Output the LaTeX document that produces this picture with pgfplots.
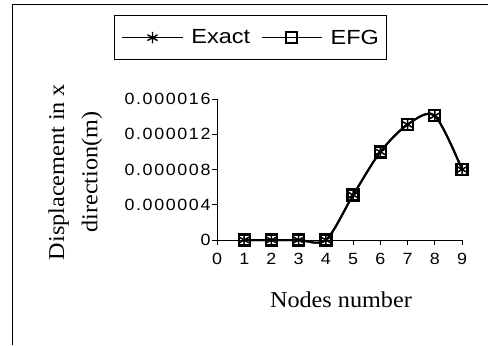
\documentclass[border=0pt]{standalone}
\usepackage{fontspec}
\usepackage{pgfplots}
\pgfplotsset{compat=1.18}
\newfontfamily\tickf[FakeStretch=1.1, LetterSpace=10]{Liberation Sans}
\newfontfamily\legf[FakeStretch=1.15]{Liberation Sans}
\newfontfamily\labf[FakeStretch=1.07]{Liberation Serif}
\begin{document}
\begin{tikzpicture}[x=1bp,y=1bp]
\useasboundingbox (0,0) rectangle (488,345);
\draw[line width=1bp] (12,0) -- (12,340) -- (488,340);
\begin{axis}[
  at={(217bp,105bp)}, anchor=south west,
  scale only axis, width=245bp, height=141bp,
  xmin=0, xmax=9, ymin=0, ymax=16e-6,
  axis lines*=left,
  axis line style={line width=0.8bp, black},
  tick align=outside, major tick length=5bp,
  tick style={line width=0.8bp, black},
  xtick={0,1,2,3,4,5,6,7,8,9},
  xticklabels={0,1,2,3,4,5,6,7,8,9},
  ytick={0,4e-6,8e-6,12e-6,16e-6},
  yticklabels={0,0.000004,0.000008,0.000012,0.000016},
  scaled y ticks=false,
  tick label style={font=\tickf\fontsize{16.3}{19}\selectfont},
  xticklabel style={yshift=-5bp},
  yticklabel style={xshift=2bp},
  clip=false,
  legend columns=2,
  legend style={at={(0.1367,1.435)}, anchor=center, draw=black, line width=1bp,
    font=\legf\fontsize{20.5}{24}\selectfont, inner xsep=8bp, inner ysep=14bp,
    nodes={inner sep=0pt},
    /tikz/every even column/.append style={column sep=11bp}},
  legend image code/.code={%
    \draw[mark repeat=2, mark phase=2, #1, line width=0.9bp, every mark/.append style={line width=1.4bp}]
      plot coordinates {(0bp,0bp) (30bp,0bp) (60bp,0bp)};
    \path (68bp,0bp);},
]
\addplot[black, line width=2bp, smooth, mark=asterisk, mark size=5.8bp,
  mark options={line width=1.5bp}]
  coordinates {(1,0) (2,0) (3,0) (4,0) (5,5.1e-6) (6,10e-6) (7,13.1e-6) (8,14.1e-6) (9,8e-6)};
\addlegendentry{Exact}
\addplot[black, line width=2bp, smooth, mark=square, mark size=5.5bp,
  mark options={line width=2.4bp}]
  coordinates {(1,0) (2,0) (3,0) (4,0) (5,5.1e-6) (6,10e-6) (7,13.1e-6) (8,14.1e-6) (9,8e-6)};
\addlegendentry{EFG}
\node[rotate=90, anchor=base, font=\labf\fontsize{22.7}{27}\selectfont] at (rel axis cs:-0.6245,0.482) {Displacement in x};
\node[rotate=90, anchor=base, font=\labf\fontsize{22.7}{27}\selectfont] at (rel axis cs:-0.4878,0.482) {direction(m)};
\node[anchor=base, font=\labf\fontsize{22.7}{27}\selectfont] at (rel axis cs:0.506,-0.482) {Nodes number};
\end{axis}
\end{tikzpicture}
\end{document}
